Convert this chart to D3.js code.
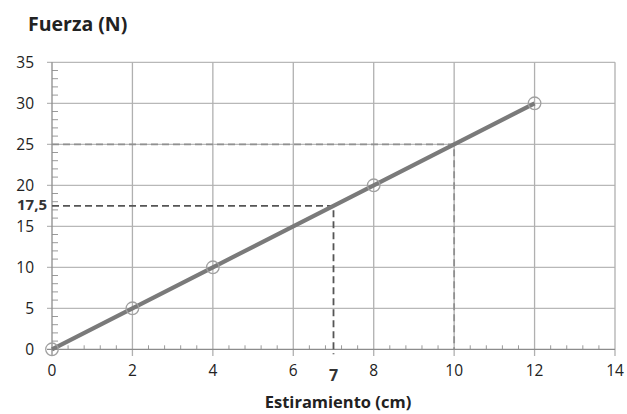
<!DOCTYPE html>
<html><head><meta charset="utf-8">
<script src="https://cdn.jsdelivr.net/npm/d3@7/dist/d3.min.js"></script>
<style>body{margin:0;background:#fff}svg{display:block}text{font-family:"Open Sans",sans-serif}</style>
</head><body><svg id="c" width="627" height="414"></svg>
<script>
const estiramiento = [0, 2, 4, 8, 12];
const fuerza = [0, 5, 10, 20, 30];
const xTicks = [0, 2, 4, 6, 8, 10, 12, 14];
const yTicks = [0, 5, 10, 15, 20, 25, 30, 35];
const guideA = {x: 7, y: 17.5, xLabel: "7", yLabel: "17,5"};
const guideB = {x: 10, y: 25};

const svg = d3.select("#c");
const x = d3.scaleLinear().domain([0, 14]).range([52, 615]);
const y = d3.scaleLinear().domain([0, 35]).range([349.3, 62.3]);

const g = svg.append("g");
g.selectAll(".hg").data(yTicks.filter(d=>d>0)).join("line")
  .attr("x1", 47).attr("x2", x(14)).attr("y1", d=>y(d)).attr("y2", d=>y(d))
  .attr("stroke", "#b8b8b8").attr("stroke-width", 1.3);
g.selectAll(".vg").data(xTicks.filter(d=>d>0)).join("line")
  .attr("x1", d=>x(d)).attr("x2", d=>x(d)).attr("y1", y(35)).attr("y2", 356)
  .attr("stroke", "#b0b0b0").attr("stroke-width", 1.3);

const yMinor = d3.range(0, 35, 1).filter(d => d % 5 !== 0);
g.selectAll(".ym").data(yMinor).join("line")
  .attr("x1", x(0)).attr("x2", x(0)+6).attr("y1", d=>y(d)).attr("y2", d=>y(d))
  .attr("stroke", "#9a9a9a").attr("stroke-width", 1);
const xMinor = d3.range(0, 70).map(i => i*0.4).filter(d => d < 14 && Math.abs(d/2 - Math.round(d/2)) > 0.01);
g.selectAll(".xm").data(xMinor).join("line")
  .attr("x1", d=>x(d)).attr("x2", d=>x(d)).attr("y1", y(0)).attr("y2", y(0)-4)
  .attr("stroke", "#9a9a9a").attr("stroke-width", 1);

g.append("line").attr("x1", x(0)).attr("x2", x(0)).attr("y1", y(35)).attr("y2", 356)
  .attr("stroke", "#8c8c8c").attr("stroke-width", 1.3);
g.append("line").attr("x1", 47).attr("x2", x(14)).attr("y1", y(0)).attr("y2", y(0))
  .attr("stroke", "#8c8c8c").attr("stroke-width", 1.3);

svg.selectAll(".yl").data(yTicks).join("text")
  .attr("x", 34).attr("y", d=>y(d)).attr("dy", "0.36em").attr("text-anchor", "end")
  .attr("font-size", 15.5).attr("fill", "#222").text(d=>d);
svg.selectAll(".xl").data(xTicks).join("text")
  .attr("x", d=>x(d)).attr("y", 376).attr("text-anchor", "middle")
  .attr("font-size", 15.5).attr("fill", "#222").text(d=>d);

svg.append("path")
  .attr("d", `M${x(0)},${y(guideB.y)}H${x(guideB.x)}V${y(0)}`)
  .attr("fill", "none").attr("stroke", "#909090").attr("stroke-width", 1.8).attr("stroke-dasharray", "7,4");
svg.append("path")
  .attr("d", `M${x(0)},${y(guideA.y)}H${x(guideA.x)}V${y(0)+5}`)
  .attr("fill", "none").attr("stroke", "#555").attr("stroke-width", 1.8).attr("stroke-dasharray", "7,4");
svg.append("text").attr("x", 47).attr("y", y(guideA.y)).attr("dy", "0.3em").attr("text-anchor", "end")
  .attr("font-size", 15).attr("font-weight", "bold").attr("fill", "#333").text(guideA.yLabel);
svg.append("text").attr("x", x(guideA.x)).attr("y", 381).attr("text-anchor", "middle")
  .attr("font-size", 16).attr("font-weight", "bold").attr("fill", "#333").text(guideA.xLabel);

const pts = estiramiento.map((d,i)=>[d, fuerza[i]]);
svg.append("path").datum(pts)
  .attr("d", d3.line().x(d=>x(d[0])).y(d=>y(d[1])))
  .attr("fill", "none").attr("stroke", "#7a7a7a").attr("stroke-width", 4.2);
svg.selectAll(".pt").data(pts).join("circle")
  .attr("cx", d=>x(d[0])).attr("cy", d=>y(d[1])).attr("r", 6.3)
  .attr("fill", "none").attr("stroke", "#a0a0a0").attr("stroke-width", 1.3);

svg.append("text").attr("x", 28).attr("y", 31).attr("font-size", 19.5).attr("font-weight", "bold")
  .attr("fill", "#222").text("Fuerza (N)");
svg.append("text").attr("x", 338).attr("y", 408).attr("text-anchor", "middle").attr("font-size", 16.5)
  .attr("font-weight", "bold").attr("fill", "#222").text("Estiramiento (cm)");
</script></body></html>
